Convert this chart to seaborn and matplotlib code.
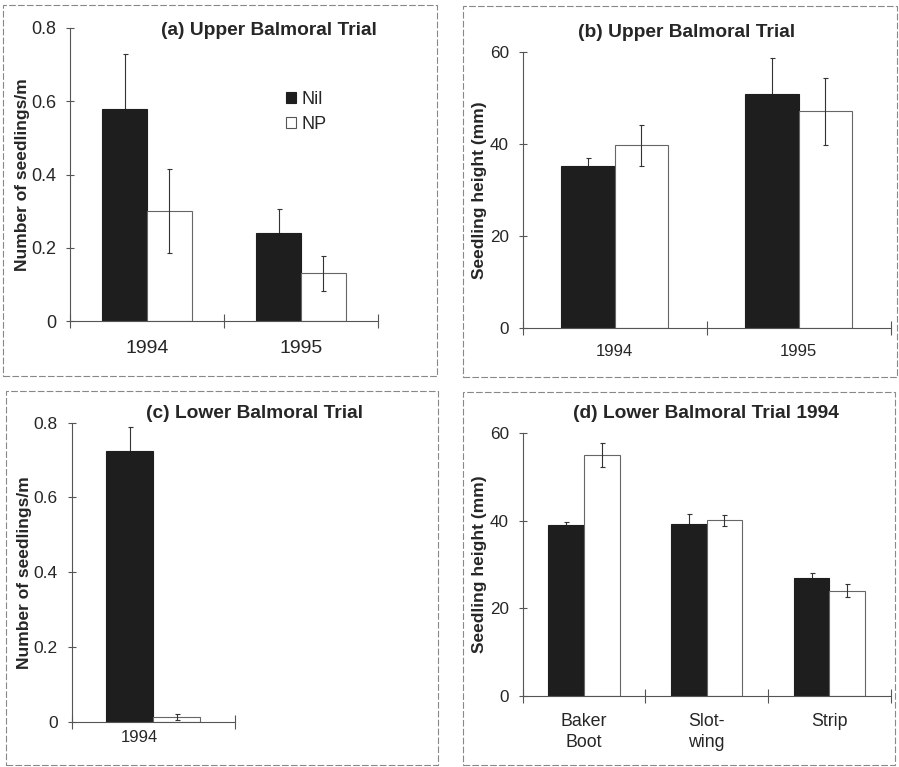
import numpy as np
import pandas as pd
import matplotlib
matplotlib.use("Agg")
import matplotlib.pyplot as plt
import seaborn as sns
from matplotlib.patches import Rectangle
from matplotlib.container import BarContainer
import matplotlib.transforms as mtransforms

# ---------------- data ----------------
treatments = ["Nil", "NP"]

a_years = ["1994", "1995"]
a_nil = [0.58, 0.24]
a_nil_se = [0.15, 0.065]
a_np = [0.30, 0.13]
a_np_se = [0.115, 0.048]

b_years = ["1994", "1995"]
b_nil = [35.3, 50.9]
b_nil_se = [1.7, 7.8]
b_np = [39.7, 47.1]
b_np_se = [4.5, 7.3]

c_years = ["1994"]
c_nil = [0.724]
c_nil_se = [0.065]
c_np = [0.013]
c_np_se = [0.008]

d_methods = ["Baker\nBoot", "Slot-\nwing", "Strip"]
d_nil = [39.1, 39.2, 27.0]
d_nil_se = [0.7, 2.3, 1.2]
d_np = [55.1, 40.1, 24.0]
d_np_se = [2.7, 1.2, 1.5]

count_ticks = [0, 0.2, 0.4, 0.6, 0.8]
count_labels = ["0", "0.2", "0.4", "0.6", "0.8"]
height_ticks = [0, 20, 40, 60]
height_labels = ["0", "20", "40", "60"]

titles = ["(a) Upper Balmoral Trial", "(b) Upper Balmoral Trial",
          "(c) Lower Balmoral Trial", "(d) Lower Balmoral Trial 1994"]
ylab_count = "Number of seedlings/m"
ylab_height = "Seedling height (mm)"

# ---------------- style ----------------
sns.set_theme(style="white")
plt.rcParams["font.family"] = ["Liberation Sans", "DejaVu Sans"]

W, H = 899, 767
fig = plt.figure(figsize=(W / 100, H / 100), dpi=100)
fig.patch.set_facecolor("white")

DARK = "#1e1e1e"
AXC = "#555555"
palette = {"Nil": DARK, "NP": "white"}


def px_axes(left, top, right, bottom):
    return fig.add_axes([left / W, 1 - bottom / H, (right - left) / W, (bottom - top) / H])


def panel(ax, cats, nil, nil_se, np_, np_se, ylim, yticks, ylabels, ylabel,
          title, title_xy, ylab_x, ytick_fs, xtick_fs, xpad, xlim=None, legend=False):
    df = pd.DataFrame({
        "cat": list(cats) * 2,
        "trt": ["Nil"] * len(cats) + ["NP"] * len(cats),
        "val": list(nil) + list(np_),
    })
    sns.barplot(data=df, x="cat", y="val", hue="trt", hue_order=treatments,
                order=list(cats), palette=palette, width=0.58, errorbar=None,
                linewidth=0.8, edgecolor=DARK, saturation=1, ax=ax, legend=legend)
    errs = [nil_se, np_se]
    bar_conts = [c for c in ax.containers if isinstance(c, BarContainer)]
    for ci, cont in enumerate(bar_conts):
        xs, hs = [], []
        for p in cont.patches:
            xs.append(p.get_x() + p.get_width() / 2)
            hs.append(p.get_height())
            p.set_zorder(2)
            if ci == 1:
                p.set_edgecolor("#666666")
        # Nil error bars sit behind the dark bars (lower half hidden as in the original)
        ax.errorbar(xs, hs, yerr=errs[ci], fmt="none", ecolor="#333333",
                    elinewidth=0.8, capsize=1.8, capthick=0.8,
                    zorder=1 if ci == 0 else 5)
    n = len(cats)
    ax.set_ylim(*ylim)
    if xlim is None:
        xlim = (-0.5, n - 0.5)
    ax.set_xlim(*xlim)
    ax.set_yticks(yticks)
    ax.set_yticklabels(ylabels, fontsize=ytick_fs)
    ax.set_xticks(range(n))
    ax.set_xticklabels(cats, fontsize=xtick_fs, linespacing=1.3)
    ax.set_xticks([i - 0.5 for i in range(n + 1)], minor=True)
    ax.tick_params(axis="x", which="major", length=0, pad=xpad, bottom=True)
    ax.tick_params(axis="x", which="minor", direction="inout", length=10,
                   width=0.8, color=AXC, bottom=True)
    ax.tick_params(axis="y", which="major", direction="inout", length=6,
                   width=0.8, color=AXC, pad=7, left=True)
    for s in ["top", "right"]:
        ax.spines[s].set_visible(False)
    for s in ["left", "bottom"]:
        ax.spines[s].set_color(AXC)
        ax.spines[s].set_linewidth(0.8)
    ax.spines["bottom"].set_bounds(-0.5, n - 0.5)
    ax.set_xlabel("")
    ax.set_ylabel(ylabel, fontsize=12.5, fontweight="bold")
    ax.yaxis.set_label_coords(ylab_x, 0.5)
    ax.text(title_xy[0], title_xy[1], title, transform=ax.transAxes,
            ha="center", va="center", fontsize=13.8, fontweight="bold")
    ax.patch.set_alpha(0)


# (a)
ax_a = px_axes(70, 28, 378, 321)
panel(ax_a, a_years, a_nil, a_nil_se, a_np, a_np_se, (0, 0.8), count_ticks,
      count_labels, ylab_count, titles[0], (0.646, 0.993), -0.13, 13, 14, 14,
      legend=True)
sns.move_legend(ax_a, loc="upper left", bbox_to_anchor=(0.70, 0.785),
                frameon=False, title=None, fontsize=13, handlelength=0.6,
                handleheight=0.6, handletextpad=0.3, labelspacing=0.45,
                borderpad=0, borderaxespad=0)
leg = ax_a.get_legend()
for h, t in zip(leg.legend_handles, treatments):
    h.set_edgecolor(DARK if t == "Nil" else "#555555")
    h.set_linewidth(0.8)

# (b)
ax_b = px_axes(522.7, 51.7, 890.7, 328.3)
panel(ax_b, b_years, b_nil, b_nil_se, b_np, b_np_se, (0, 60), height_ticks,
      height_labels, ylab_height, titles[1], (0.446, 1.068), -0.097, 12.3, 12, 11)

# (c)
ax_c = px_axes(71.7, 422.7, 378, 721.7)
panel(ax_c, c_years, c_nil, c_nil_se, c_np, c_np_se, (0, 0.8), count_ticks,
      count_labels, ylab_count, titles[2], (0.597, 1.032), -0.13, 12.5, 12, 6,
      xlim=(-0.5, 1.38))
for lbl in ax_c.get_xticklabels():
    lbl.set_transform(lbl.get_transform() +
                      mtransforms.ScaledTranslation(-14 / 100, 0, fig.dpi_scale_trans))

# (d)
ax_d = px_axes(522.7, 433.3, 890.7, 696)
panel(ax_d, d_methods, d_nil, d_nil_se, d_np, d_np_se, (0, 60), height_ticks,
      height_labels, ylab_height, titles[3], (0.497, 1.077), -0.097, 12.3, 12.8, 12)

# panel frames
frames = [(3, 5, 437, 376), (463, 6, 897, 377), (6, 391, 438, 765), (463, 392, 895, 765)]
for (l, t, r, b) in frames:
    fig.add_artist(Rectangle((l / W, 1 - b / H), (r - l) / W, (b - t) / H,
                             transform=fig.transFigure, fill=False,
                             edgecolor="#888888", linewidth=0.8,
                             linestyle=(0, (6, 2))))

fig.savefig("out.png", dpi=100)
